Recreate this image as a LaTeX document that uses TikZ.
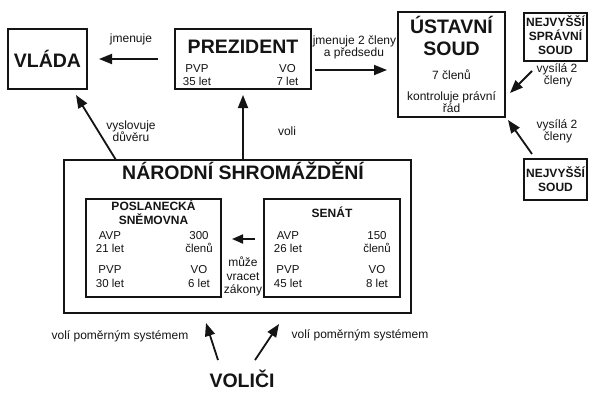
\documentclass[tikz,border=0pt]{standalone}
\usepackage{fontspec}
\setmainfont{Liberation Sans}
\usetikzlibrary{arrows.meta}
\definecolor{ink}{HTML}{141414}
\begin{document}
\begin{tikzpicture}[x=1pt,y=-1pt,
  box/.style={draw=ink,line width=1.6pt,inner sep=0pt},
  ttl/.style={font=\fontsize{19.5}{21}\selectfont\bfseries,text=ink,inner sep=0pt,anchor=base},
  bsm/.style={font=\fontsize{12}{13}\selectfont\bfseries,text=ink,inner sep=0pt,anchor=base},
  lbl/.style={font=\fontsize{12}{13}\selectfont,text=ink,inner sep=0pt,anchor=base},
  val/.style={font=\fontsize{11.5}{13}\selectfont,text=ink,inner sep=0pt,anchor=base},
  arr/.style={draw=ink,line width=1.8pt,-{Triangle[length=13pt,width=10pt]}},
  sarr/.style={draw=ink,line width=1.8pt,-{Triangle[length=11pt,width=9pt]}}]
\useasboundingbox[fill=white] (0,0) rectangle (589,392);

% boxes
\node[box,minimum width=79pt,minimum height=60pt] (vlada) at (47.5,59) {};
\node[box,minimum width=136pt,minimum height=60pt] (prez) at (243,59) {};
\node[box,minimum width=107pt,minimum height=105pt] (us) at (451.5,64.5) {};
\node[box,minimum width=63pt,minimum height=48pt] (nss) at (555.5,37) {};
\node[box,minimum width=63pt,minimum height=41pt] (ns) at (555.5,179.5) {};
\node[box,minimum width=347pt,minimum height=153pt] (nsh) at (237.5,236.5) {};
\node[box,minimum width=135pt,minimum height=98pt] (ps) at (153.5,248) {};
\node[box,minimum width=136pt,minimum height=98pt] (sen) at (332,248) {};

% texts in boxes
\node[ttl] (vladaT) at (47.5,67) {VLÁDA};
\node[ttl] (prezT) at (243,53) {PREZIDENT};
\node[val] (pvp1) at (197,72) {PVP};
\node[val] (pvp2) at (197,85) {35 let};
\node[val] (vo1) at (287.5,72) {VO};
\node[val] (vo2) at (287.5,85) {7 let};

\node[ttl] (us1) at (451.5,33) {ÚSTAVNÍ};
\node[ttl] (us2) at (451.5,55) {SOUD};
\node[lbl] (us3) at (451.5,79) {7 členů};
\node[lbl] (us4) at (451.5,100) {kontroluje právní};
\node[lbl] (us5) at (451.5,112) {řád};

\node[bsm] (nss1) at (555.5,26.7) {NEJVYŠŠÍ};
\node[bsm] (nss2) at (555.5,40.7) {SPRÁVNÍ};
\node[bsm] (nss3) at (555.5,54.3) {SOUD};
\node[bsm] (ns1) at (555.5,177) {NEJVYŠŠÍ};
\node[bsm] (ns2) at (555.5,191.5) {SOUD};

\node[ttl] (nshT) at (243,179) {NÁRODNÍ SHROMÁŽDĚNÍ};

\node[bsm] (ps1) at (153.5,210) {POSLANECKÁ};
\node[bsm] (ps2) at (153.5,224.5) {SNĚMOVNA};
\node[val] (psa1) at (110,239) {AVP};
\node[val] (psa2) at (110,252) {21 let};
\node[val] (psp1) at (110,273) {PVP};
\node[val] (psp2) at (110,287) {30 let};
\node[val] (psc1) at (199,239) {300};
\node[val] (psc2) at (199,252) {členů};
\node[val] (psv1) at (199,273) {VO};
\node[val] (psv2) at (199,287) {6 let};

\node[bsm] (sen1) at (332,217) {SENÁT};
\node[val] (sea1) at (288,239) {AVP};
\node[val] (sea2) at (288,252) {26 let};
\node[val] (sep1) at (288,273) {PVP};
\node[val] (sep2) at (288,287) {45 let};
\node[val] (sec1) at (377,239) {150};
\node[val] (sec2) at (377,252) {členů};
\node[val] (sev1) at (377,273) {VO};
\node[val] (sev2) at (377,287) {8 let};

\node[lbl] (mz1) at (243,266.7) {může};
\node[lbl] (mz2) at (243,280.7) {vracet};
\node[lbl] (mz3) at (243,293.3) {zákony};

% labels
\node[lbl] (jm) at (131,42) {jmenuje};
\node[lbl] (vy1) at (131,129.5) {vyslovuje};
\node[lbl] (vy2) at (131,141.5) {důvěru};
\node[lbl] (voli) at (287,135) {voli};
\node[lbl] (jm1) at (354.5,44.5) {jmenuje 2 členy};
\node[lbl] (jm2) at (354,56.5) {a předsedu};
\node[lbl] (vs1) at (557,72) {vysílá 2};
\node[lbl] (vs2) at (558,84) {členy};
\node[lbl] (vs3) at (557,128.5) {vysílá 2};
\node[lbl] (vs4) at (558,140.5) {členy};
\node[lbl] (vp1) at (120,339) {volí poměrným systémem};
\node[lbl] (vp2) at (360,338) {volí poměrným systémem};
\node[ttl] (volici) at (242,387.5) {VOLIČI};

% arrow end points
\coordinate (a1s) at (158,59);   \coordinate (a1e) at (99,59);
\coordinate (a2s) at (116,160);  \coordinate (a2e) at (76,95);
\coordinate (a3s) at (243,160);  \coordinate (a3e) at (243,95);
\coordinate (a4s) at (315,70);   \coordinate (a4e) at (387,70);
\coordinate (a5s) at (532,71);   \coordinate (a5e) at (510,93);
\coordinate (a6s) at (532,154);  \coordinate (a6e) at (508,120);
\coordinate (a7s) at (255,239);  \coordinate (a7e) at (232,239);
\coordinate (a8s) at (218,360);  \coordinate (a8e) at (206,323);
\coordinate (a9s) at (255,360);  \coordinate (a9e) at (279,324);

\draw[arr] (a1s) -- (a1e);
\draw[arr] (a2s) -- (a2e);
\draw[arr] (a3s) -- (a3e);
\draw[arr] (a4s) -- (a4e);
\draw[arr] (a5s) -- (a5e);
\draw[arr] (a6s) -- (a6e);
\draw[sarr] (a7s) -- (a7e);
\draw[arr] (a8s) -- (a8e);
\draw[arr] (a9s) -- (a9e);
\end{tikzpicture}
\end{document}
